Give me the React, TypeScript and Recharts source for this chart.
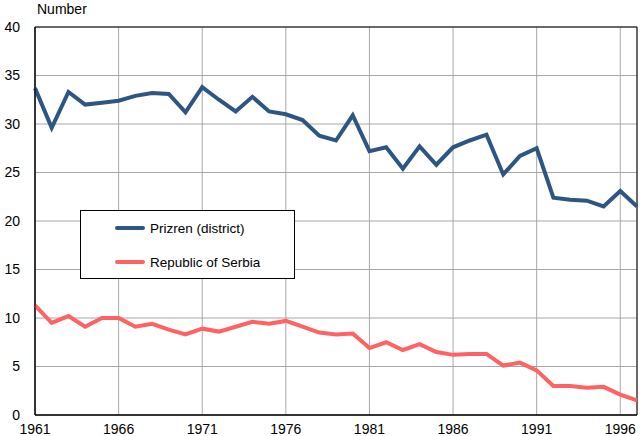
import React from 'react';
import {
  LineChart,
  Line,
  XAxis,
  YAxis,
  CartesianGrid,
  ReferenceArea
} from 'recharts';

const years = [
  1961, 1962, 1963, 1964, 1965, 1966, 1967, 1968, 1969, 1970,
  1971, 1972, 1973, 1974, 1975, 1976, 1977, 1978, 1979, 1980,
  1981, 1982, 1983, 1984, 1985, 1986, 1987, 1988, 1989, 1990,
  1991, 1992, 1993, 1994, 1995, 1996, 1997
];

const prizren = [
  33.7, 29.6, 33.3, 32.0, 32.2, 32.4, 32.9, 33.2, 33.1, 31.2,
  33.8, 32.5, 31.3, 32.8, 31.3, 31.0, 30.4, 28.8, 28.3, 30.9,
  27.2, 27.6, 25.4, 27.7, 25.8, 27.6, 28.3, 28.9, 24.8, 26.7,
  27.5, 22.4, 22.2, 22.1, 21.5, 23.1, 21.5
];

const serbia = [
  11.3, 9.5, 10.2, 9.1, 10.0, 10.0, 9.1, 9.4, 8.8, 8.3,
  8.9, 8.6, 9.1, 9.6, 9.4, 9.7, 9.1, 8.5, 8.3, 8.4,
  6.9, 7.5, 6.7, 7.3, 6.5, 6.2, 6.3, 6.3, 5.1, 5.4,
  4.6, 3.0, 3.0, 2.8, 2.9, 2.1, 1.5
];

const xTicks = [1961, 1966, 1971, 1976, 1981, 1986, 1991, 1996];
const yTicks = [0, 5, 10, 15, 20, 25, 30, 35, 40];

const seriesNames = ['Prizren (district)', 'Republic of Serbia'];
const seriesColors = ['#2f5583', '#ff6262'];

const data = years.map((year, i) => ({
  year,
  prizren: prizren[i],
  serbia: serbia[i]
}));

const FONT = 'Arial, "Liberation Sans", sans-serif';

// legend box drawn over the plot, like the original
const LegendBox = () => (
  <div
    style={{
      position: 'absolute',
      left: 80,
      top: 210,
      width: 213,
      height: 67,
      border: '1px solid #000',
      background: '#fff',
      fontFamily: FONT,
      fontSize: 13.5,
      color: '#000'
    }}
  >
    {seriesNames.map((name, i) => (
      <div
        key={name}
        style={{ display: 'flex', alignItems: 'center', height: 34, paddingLeft: 34 }}
      >
        <span
          style={{
            display: 'inline-block',
            width: 30,
            height: 4,
            borderRadius: 2,
            background: seriesColors[i],
            marginRight: 5
          }}
        />
        {name}
      </div>
    ))}
  </div>
);

export default function App() {
  return (
    <div style={{ position: 'absolute', left: 0, top: 0, width: 643, height: 436, background: '#fff' }}>
      <div
        style={{
          position: 'absolute',
          left: 37,
          top: 1,
          fontFamily: FONT,
          fontSize: 14,
          color: '#000'
        }}
      >
        Number
      </div>
      <LineChart
        width={643}
        height={436}
        data={data}
        margin={{ top: 27, right: 6, bottom: 0, left: 0 }}
      >
        <CartesianGrid stroke="#a8a8a8" strokeWidth={1} />
        <XAxis
          dataKey="year"
          type="number"
          domain={[1961, 1997]}
          ticks={xTicks}
          interval={0}
          height={21}
          tickLine={false}
          axisLine={{ stroke: '#000' }}
          tick={{ fontSize: 14, fill: '#000', fontFamily: FONT }}
          tickMargin={3}
        />
        <YAxis
          type="number"
          domain={[0, 40]}
          ticks={yTicks}
          interval={0}
          width={35}
          tickLine={false}
          axisLine={{ stroke: '#000' }}
          tick={{ fontSize: 14, fill: '#000', fontFamily: FONT }}
          tickMargin={9}
        />
        <ReferenceArea
          x1={1961}
          x2={1997}
          y1={0}
          y2={40}
          fill="none"
          stroke="#000"
          strokeWidth={1}
          ifOverflow="visible"
        />
        <Line
          type="linear"
          dataKey="prizren"
          name={seriesNames[0]}
          stroke={seriesColors[0]}
          strokeWidth={4}
          dot={false}
          isAnimationActive={false}
        />
        <Line
          type="linear"
          dataKey="serbia"
          name={seriesNames[1]}
          stroke={seriesColors[1]}
          strokeWidth={4}
          dot={false}
          isAnimationActive={false}
        />
      </LineChart>
      <LegendBox />
    </div>
  );
}
